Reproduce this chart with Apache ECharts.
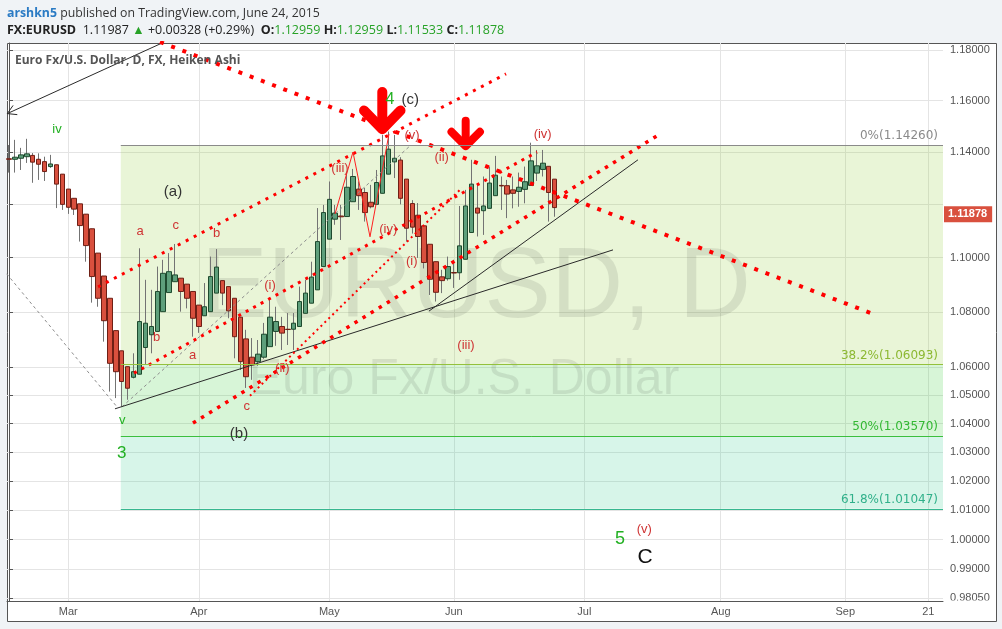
<!DOCTYPE html>
<html><head><meta charset="utf-8">
<script src="https://cdn.jsdelivr.net/npm/echarts@6/dist/echarts.min.js"></script>
<style>html,body{margin:0;padding:0;background:#f0f3f6;}#c{width:1002px;height:629px;}</style>
</head><body><div id="c"></div><script>
// ---- Heiken Ashi candles (EURUSD daily, from 2015-02-16) ----
const opens  = [1.1374,1.1372,1.1376,1.1382,1.1387,1.1372,1.1363,1.1344,1.1351,1.1315,1.1258,1.1223,1.1202,1.1163,1.1108,1.1017,1.0932,1.0850,1.0732,1.0659,1.0602,1.0564,1.0575,1.0671,1.0717,1.0729,1.0801,1.0871,1.0911,1.0924,1.0902,1.0875,1.0825,1.0786,1.0801,1.0869,1.0915,1.0893,1.0850,1.0781,1.0702,1.0636,1.0620,1.0636,1.0674,1.0729,1.0747,1.0737,1.0737,1.0747,1.0795,1.0832,1.0881,1.0967,1.1069,1.1144,1.1156,1.1154,1.1210,1.1258,1.1245,1.1208,1.1200,1.1242,1.1315,1.1362,1.1369,1.1296,1.1203,1.1159,1.1119,1.1050,1.0985,1.0929,1.0922,1.0945,1.0944,1.0994,1.1094,1.1186,1.1176,1.1185,1.1233,1.1272,1.1271,1.1255,1.1249,1.1257,1.1272,1.1319,1.1333,1.1345,1.12959];
const closes = [1.1372,1.1380,1.1389,1.1393,1.1361,1.1353,1.1325,1.1354,1.1277,1.1200,1.1189,1.1182,1.1120,1.1045,1.0930,1.0850,1.0768,1.0614,1.0584,1.0549,1.0525,1.0584,1.0765,1.0759,1.0747,1.0875,1.0942,1.0948,1.0936,1.0875,1.0850,1.0777,1.0747,1.0819,1.0930,1.0965,1.0869,1.0804,1.0710,1.0620,1.0566,1.0608,1.0647,1.0719,1.0781,1.0765,1.0723,1.0736,1.0759,1.0838,1.0869,1.0928,1.1060,1.1169,1.1219,1.1167,1.1153,1.1265,1.1306,1.1233,1.1169,1.1191,1.1283,1.1385,1.1411,1.1376,1.1223,1.1110,1.1114,1.1079,1.0982,1.0920,1.0872,1.0915,1.0967,1.0943,1.1044,1.1194,1.1277,1.1167,1.1194,1.1281,1.1311,1.1270,1.1239,1.1242,1.1265,1.1286,1.1366,1.1347,1.1357,1.1245,1.11878];
const lows   = [1.1321,1.1321,1.1331,1.1358,1.1282,1.1293,1.1289,1.1339,1.1186,1.1179,1.1164,1.1160,1.1060,1.0985,1.0834,1.0819,1.0692,1.0513,1.0490,1.0460,1.0484,1.0560,1.0575,1.0608,1.0650,1.0729,1.0801,1.0871,1.0911,1.0801,1.0813,1.0710,1.0724,1.0786,1.0801,1.0869,1.0825,1.0777,1.0632,1.0590,1.0526,1.0555,1.0605,1.0630,1.0674,1.0677,1.0662,1.0680,1.0662,1.0747,1.0795,1.0832,1.0881,1.0967,1.1069,1.1123,1.1066,1.1154,1.1210,1.1179,1.1135,1.1185,1.1200,1.1242,1.1315,1.1300,1.1200,1.1060,1.1090,1.0999,1.0960,1.0862,1.0838,1.0869,1.0915,1.0888,1.0918,1.0994,1.1094,1.1079,1.1085,1.1185,1.1233,1.1179,1.1148,1.1185,1.1191,1.1204,1.1272,1.1289,1.1306,1.1135,1.11533];
const highs  = [1.1427,1.1447,1.1416,1.1451,1.1396,1.1395,1.1382,1.1389,1.1351,1.1315,1.1258,1.1223,1.1202,1.1163,1.1108,1.1017,1.0932,1.0850,1.0732,1.0659,1.0602,1.0650,1.1035,1.0918,1.0881,1.0967,1.0992,1.1017,1.1051,1.0924,1.0902,1.0875,1.0825,1.0906,1.1004,1.1032,1.0915,1.0893,1.0850,1.0781,1.0735,1.0705,1.0698,1.0760,1.0850,1.0819,1.0782,1.0796,1.0796,1.0893,1.0918,1.0985,1.1186,1.1198,1.1287,1.1198,1.1198,1.1319,1.1335,1.1287,1.1263,1.1274,1.1331,1.1466,1.1479,1.1466,1.1380,1.1296,1.1216,1.1205,1.1119,1.1050,1.0985,1.0955,1.1004,1.0992,1.1194,1.1255,1.1370,1.1281,1.1306,1.1344,1.1385,1.1306,1.1293,1.1306,1.1321,1.1344,1.1436,1.1408,1.1408,1.1345,1.12959];

// ---- axes ----
const priceTicks = [0.9805,0.99,1.00,1.01,1.02,1.03,1.04,1.05,1.06,1.08,1.10,1.12,1.14,1.16,1.18];
const priceLabelTicks = [0.9805,0.99,1.00,1.01,1.02,1.03,1.04,1.05,1.06,1.08,1.10,1.14,1.16,1.18];
const monthLabels = ['Mar','Apr','May','Jun','Jul','Aug','Sep','21'];
const monthDates  = ['2015-03-02','2015-04-01','2015-05-01','2015-06-01','2015-07-01','2015-08-03','2015-09-01','2015-09-21'];
const calendarStart = '2015-02-16', calendarEnd = '2015-09-22';
const priceMin = 0.97945, priceMax = 1.1828;
const indexMin = -0.337, indexMax = 157.48;

// ---- fibonacci retracement ----
const fibLevels = [1.1426, 1.06093, 1.0357, 1.01047];
const fibNames  = ['0%','38.2%','50%','61.8%'];
const fibStartIndex = 18.85;

// ---- drawings: [trading-day index, price] ----
const redLine1 = [[25.46,1.1832],[145.68,1.0793]];
const redLine2 = [[15.01,1.0892],[83.80,1.1705]];
const redLine3 = [[21.08,1.0579],[89.02,1.1400]];
const redLine4 = [[31.02,1.0402],[109.93,1.1472]];
const redLine5 = [[40.63,1.0498],[76.38,1.1263]];
const grayDash1 = [[-0.39,1.0940],[18.21,1.0459]];
const grayDash2 = [[19.05,1.0459],[67.78,1.1427]];
const blackLine1 = [[17.87,1.0452],[101.84,1.1029]];
const blackLine2 = [[70.81,1.0803],[106.05,1.1370]];
const blackArrow = [[25.63,1.1826],[-0.287,1.1549]];
const blackArrowHead = [[1.40,1.1545],[-0.287,1.1549],[0.69,1.1581]];
const waveZigzag = [[54.97,1.1164],[58.0,1.1400],[60.87,1.1078],[64.07,1.1470]];
const arrow1Shaft = [[62.94,1.1634],[62.94,1.1495]];
const arrow1Head = [[59.86,1.1561],[62.94,1.1488],[66.01,1.1561]];
const arrow2Shaft = [[77.0,1.1521],[77.0,1.1433]];
const arrow2Head = [[74.61,1.1478],[77.0,1.1423],[79.40,1.1478]];

// wave labels: [text, index, price, colour, size]
const waveLabels = [
 ['iv',8.09,1.1489,'#22b022',13],
 ['(a)',27.65,1.1249,'#333',15],
 ['a',22.09,1.1098,'#cf3434',13],
 ['c',28.11,1.1119,'#cf3434',13],
 ['b',35.02,1.1092,'#cf3434',13],
 ['b',24.90,1.0708,'#cf3434',13],
 ['a',30.97,1.0644,'#cf3434',13],
 ['v',19.10,1.0410,'#22b022',13],
 ['3',19.00,1.0297,'#22b022',17],
 ['(b)',38.78,1.0363,'#333',15],
 ['c',40.08,1.0460,'#cf3434',13],
 ['(ii)',46.08,1.0596,'#cf3434',13],
 ['(i)',44.01,1.0899,'#cf3434',13],
 ['(iii)',55.81,1.1338,'#cf3434',13],
 ['(iv)',63.95,1.1107,'#cf3434',13],
 ['(v)',67.95,1.1464,'#cf3434',13],
 ['4',64.24,1.1605,'#22b022',16],
 ['(c)',67.66,1.1601,'#333',15],
 ['(ii)',72.96,1.1381,'#cf3434',13],
 ['(i)',67.90,1.0985,'#cf3434',13],
 ['(iii)',77.05,1.0680,'#cf3434',13],
 ['(iv)',89.98,1.1469,'#cf3434',13],
 ['5',103.02,1.0001,'#22b022',18],
 ['(v)',107.12,1.0034,'#cf3434',13],
 ['C',107.23,0.9940,'#111',21]
];

// ---------------------------------------------------------------
const L = Math.log;
const dates = [];
(function(){ let d = new Date(calendarStart+'T00:00:00Z'); const e = new Date(calendarEnd+'T00:00:00Z');
  while (d <= e) { const w = d.getUTCDay(); if (w !== 0 && w !== 6) dates.push(d.toISOString().slice(0,10)); d = new Date(d.getTime()+86400000); } })();
const monthIdx = monthDates.map(s => dates.indexOf(s));
const labelMap = {}; monthIdx.forEach((v,k)=>{ labelMap[v] = monthLabels[k]; });
const last = closes.length - 1;

const wickData = opens.map((o,i)=>[i, L(o), L(closes[i]), L(lows[i]), L(highs[i])]);
const bodyData = opens.map((o,i)=>[i, L(o), L(closes[i]), L(Math.min(o,closes[i])), L(Math.max(o,closes[i]))]);

const fibLineColors = ['#8a8a8a','#94c13c','#3cbf3c','#36b78f'];
const fibTextColors = ['#8a8a8a','#8cb832','#33b833','#30b08a'];
const fibFills = ['rgba(140,200,40,0.19)','rgba(40,200,40,0.19)','rgba(40,200,140,0.19)'];

function seg(pts, color, width, type) {
  return { type:'line', data: pts.map(p=>[p[0], L(p[1])]), symbol:'none', silent:true, z:3,
    clip:true, animation:false, lineStyle:{ color, width, type, cap:'butt' } };
}
function roundSeg(pts, color, width) {
  return { type:'line', data: pts.map(p=>[p[0], L(p[1])]), symbol:'none', silent:true, z:4, clip:true, animation:false,
    lineStyle:{ color, width, cap:'round', join:'round' } };
}

const chart = echarts.init(document.getElementById('c'), null, {renderer:'canvas'});
const option = {
  animation:false,
  backgroundColor:'#f0f3f6',
  grid:{ left:7, right:59, top:43, bottom:28 },
  xAxis:{ type:'value', min:indexMin, max:indexMax, position:'bottom',
    axisLine:{ show:true, onZero:false, lineStyle:{ color:'#555' } },
    axisTick:{ show:false, customValues: monthIdx },
    axisLabel:{ customValues: monthIdx, formatter: v => labelMap[Math.round(v)] || '', color:'#555', fontSize:11, margin:5, fontFamily:'Liberation Sans' },
    splitLine:{ show:true, lineStyle:{ color:'#e4e4e4' } } },
  yAxis:{ type:'value', position:'right', min:L(priceMin), max:L(priceMax),
    axisLine:{ show:true, lineStyle:{ color:'#555' } },
    axisTick:{ show:true, length:4, customValues: priceTicks.map(L), lineStyle:{ color:'#555' } },
    axisLabel:{ customValues: priceLabelTicks.map(L), formatter: v => Math.exp(v).toFixed(5), color:'#555', fontSize:11, margin:7, fontFamily:'Liberation Sans' },
    splitLine:{ show:true, lineStyle:{ color:'#e4e4e4' } } },
  graphic:[
    { type:'rect', z:-100, shape:{ x:7.5, y:43.5, width:989, height:578 }, style:{ fill:'#fff', stroke:'#555', lineWidth:1 } },
    { type:'text', z:1.5, x:476, y:289, style:{ text:'EURUSD, D', fontSize:100, fontFamily:'Liberation Sans', fill:'rgba(0,0,0,0.085)', align:'center', verticalAlign:'middle' } },
    { type:'text', z:1.5, x:464, y:380, style:{ text:'Euro Fx/U.S. Dollar', fontSize:50, fontFamily:'Liberation Sans', fill:'rgba(0,0,0,0.085)', align:'center', verticalAlign:'middle' } },
    { type:'text', z:20, x:15, y:61, style:{ text:'Euro Fx/U.S. Dollar, D, FX, Heiken Ashi', fontSize:12, fontWeight:'bold', fontFamily:'Open Sans', fill:'#555', verticalAlign:'middle' } },
    { type:'rect', z:30, shape:{ x:944, y:600.5, width:52, height:20.5 }, style:{ fill:'#fff' } },
    { type:'text', z:20, x:7, y:13, style:{ text:'{u|arshkn5} {t|published on TradingView.com, June 24, 2015}', verticalAlign:'middle',
        rich:{ u:{ fontSize:12.3, fontFamily:'Open Sans', fontWeight:'bold', fill:'#2b7bc4', color:'#2b7bc4' }, t:{ fontSize:12.3, fontFamily:'Open Sans', color:'#333', fill:'#333' } } } },
    { type:'text', z:20, x:7, y:30, style:{ text:'{b|FX:EURUSD}  {n|1.11987} {g|▲} {n|+0.00328 (+0.29%)}  {b|O:}{g|1.12959} {b|H:}{g|1.12959} {b|L:}{g|1.11533} {b|C:}{g|1.11878}', verticalAlign:'middle',
        rich:{ b:{ fontSize:12.5, fontFamily:'Open Sans', fontWeight:'bold', color:'#222', fill:'#222' }, n:{ fontSize:12.5, fontFamily:'Open Sans', color:'#222', fill:'#222' }, g:{ fontSize:12.5, fontFamily:'Open Sans', color:'#27a227', fill:'#27a227' } } } }
  ],
  series:[
    { type:'candlestick', name:'wicks', data:wickData, encode:{ x:0, y:[1,2,3,4] }, barWidth:1, silent:true, z:2,
      itemStyle:{ color:'#737373', color0:'#737373', borderColor:'#737373', borderColor0:'#737373', borderColorDoji:'#737373', borderWidth:1 },
      markArea:{ silent:true, data: fibFills.map((c,k)=>[{ coord:[fibStartIndex, L(fibLevels[k])], itemStyle:{ color:c } }, { coord:[indexMax, L(fibLevels[k+1])] }]) },
      markLine:{ silent:true, symbol:['none','none'], animation:false,
        data: fibLevels.map((lv,k)=>[
          { coord:[fibStartIndex, L(lv)], lineStyle:{ color:fibLineColors[k], width:1, type:'solid' },
            label:{ show:true, position:'insideEndTop', formatter: fibNames[k]+'('+lv.toFixed(5)+')', color:fibTextColors[k], fontSize:12, fontFamily:'DejaVu Sans', distance:[5,3] } },
          { coord:[indexMax, L(lv)] }]) } },
    { type:'candlestick', name:'bodies', data:bodyData, encode:{ x:0, y:[1,2,3,4] }, barWidth:5, silent:true, z:2,
      itemStyle:{ color:'#5e9f7b', color0:'#d9503e', borderColor:'#1e4a2e', borderColor0:'#6e1f15', borderColorDoji:'#5a2a20', borderWidth:1 } },
    { type:'line', name:'lastPrice', data:[], silent:true, z:8, animation:false,
      markLine:{ silent:true, symbol:['none','none'], animation:false, data:[{ yAxis: L(closes[last]) }],
        lineStyle:{ color:'rgba(0,0,0,0)', width:1 },
        label:{ show:true, position:'end', distance:1, formatter: closes[last].toFixed(5), backgroundColor:'#d9503e', color:'#fff', fontWeight:'bold', fontSize:11, fontFamily:'Liberation Sans', padding:[3,5,2,4] } } },
    seg(grayDash1, '#8c8c8c', 1, [3,3]),
    seg(grayDash2, '#8c8c8c', 1, [3,3]),
    seg(blackLine1, '#2a2a2a', 1, 'solid'),
    seg(blackLine2, '#2a2a2a', 1, 'solid'),
    seg(blackArrow, '#2a2a2a', 1, 'solid'),
    seg(blackArrowHead, '#2a2a2a', 1, 'solid'),
    seg(redLine1, '#ff0000', 4, [4,8]),
    seg(redLine2, '#ff0000', 3, [3,6]),
    seg(redLine3, '#ff0000', 3, [3,5.5]),
    seg(redLine4, '#ff0000', 3.5, [3.5,6]),
    seg(redLine5, '#ff0000', 2, [2,3.5]),
    seg(waveZigzag, '#ff2020', 1, 'solid'),
    roundSeg(arrow1Shaft, '#ff0000', 10),
    roundSeg(arrow1Head, '#ff0000', 10),
    roundSeg(arrow2Shaft, '#ff0000', 8),
    roundSeg(arrow2Head, '#ff0000', 8),
    { type:'scatter', silent:true, z:6, symbolSize:1, itemStyle:{ color:'rgba(0,0,0,0)', opacity:1 }, animation:false,
      data: waveLabels.map(w=>({ value:[w[1], L(w[2])], name:w[0],
        label:{ show:true, position:'inside', formatter:w[0], color:w[3], opacity:1, textBorderWidth:0, fontSize:w[4], fontFamily:'Liberation Sans' } })) }
  ]
};
chart.setOption(option);
</script></body></html>
